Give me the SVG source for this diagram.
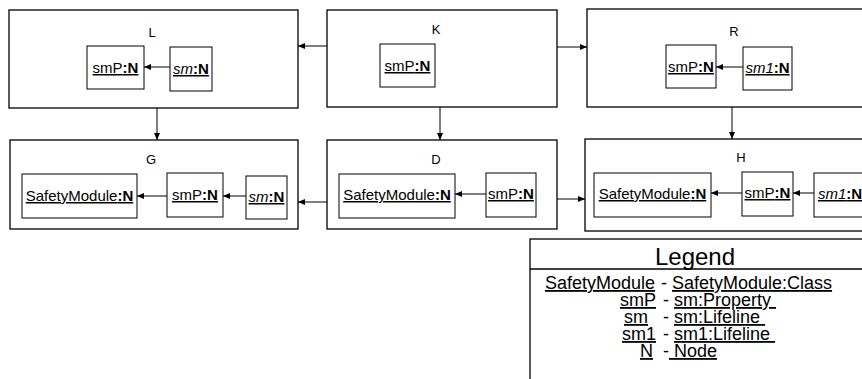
<svg xmlns="http://www.w3.org/2000/svg" width="862" height="379" viewBox="0 0 862 379">
<style>
.outer{fill:#fff;stroke:#000;stroke-width:1.3}
.inner{fill:#fff;stroke:#000;stroke-width:1}
.lbl{font-family:"Liberation Sans",Arial,sans-serif;font-size:13px;text-anchor:middle;fill:#000}
.nt{font-family:"Liberation Sans",Arial,sans-serif;font-size:15px;text-anchor:middle;fill:#000;text-decoration:underline}
.b{font-weight:bold}
.i{font-style:italic}
.conn line{stroke:#000;stroke-width:1;marker-end:url(#ah)}
.lg{font-family:"Liberation Sans",Arial,sans-serif;font-size:18px;fill:#000}
.u{text-decoration:underline}
</style>
<defs>
<marker id="ah" markerWidth="7" markerHeight="6" refX="7" refY="3" orient="auto" markerUnits="userSpaceOnUse">
<path d="M0,0 L7,3 L0,6 z" fill="#000"/>
</marker>
</defs>

<g id="L">
<rect class="outer" x="9" y="10" width="289" height="98"/>
<text class="lbl" x="152" y="37">L</text>
<g id="L-smP"><rect class="inner" x="87" y="46" width="57" height="43"/><text class="nt" x="115.5" y="73">smP<tspan class="b">:N</tspan></text></g>
<g id="L-sm"><rect class="inner" x="170" y="47" width="42" height="44"/><text class="nt" x="191" y="74"><tspan class="i">sm</tspan><tspan class="b">:N</tspan></text></g>
</g>

<g id="K">
<rect class="outer" x="327" y="10" width="230" height="97"/>
<text class="lbl" x="436" y="34">K</text>
<g id="K-smP"><rect class="inner" x="380" y="44" width="55" height="43"/><text class="nt" x="407.5" y="71">smP<tspan class="b">:N</tspan></text></g>
</g>

<g id="R">
<rect class="outer" x="587" y="9" width="290" height="98"/>
<text class="lbl" x="734" y="36">R</text>
<g id="R-smP"><rect class="inner" x="666" y="45" width="50" height="43"/><text class="nt" x="691" y="72">smP<tspan class="b">:N</tspan></text></g>
<g id="R-sm1"><rect class="inner" x="743" y="47" width="49" height="43"/><text class="nt" x="767.5" y="73"><tspan class="i">sm1</tspan><tspan class="b">:N</tspan></text></g>
</g>

<g id="G">
<rect class="outer" x="10" y="140" width="288" height="89"/>
<text class="lbl" x="151" y="164">G</text>
<g id="G-SafetyModule"><rect class="inner" x="22" y="174" width="115" height="44"/><text class="nt" x="79.5" y="201">SafetyModule<tspan class="b">:N</tspan></text></g>
<g id="G-smP"><rect class="inner" x="167" y="173" width="56" height="44"/><text class="nt" x="195" y="200">smP<tspan class="b">:N</tspan></text></g>
<g id="G-sm"><rect class="inner" x="246" y="176" width="41" height="43"/><text class="nt" x="266.5" y="202"><tspan class="i">sm</tspan><tspan class="b">:N</tspan></text></g>
</g>

<g id="D">
<rect class="outer" x="327" y="140" width="230" height="89"/>
<text class="lbl" x="436" y="164">D</text>
<g id="D-SafetyModule"><rect class="inner" x="339" y="174" width="116" height="44"/><text class="nt" x="397" y="200">SafetyModule<tspan class="b">:N</tspan></text></g>
<g id="D-smP"><rect class="inner" x="486" y="173" width="50" height="44"/><text class="nt" x="511" y="199">smP<tspan class="b">:N</tspan></text></g>
</g>

<g id="H">
<rect class="outer" x="585" y="139" width="290" height="92"/>
<text class="lbl" x="741" y="162">H</text>
<g id="H-SafetyModule"><rect class="inner" x="594" y="173" width="117" height="44"/><text class="nt" x="652.5" y="199">SafetyModule<tspan class="b">:N</tspan></text></g>
<g id="H-smP"><rect class="inner" x="742" y="172" width="51" height="44"/><text class="nt" x="767.5" y="198">smP<tspan class="b">:N</tspan></text></g>
<g id="H-sm1"><rect class="inner" x="814" y="173" width="52" height="44"/><text class="nt" x="840" y="199"><tspan class="i">sm1</tspan><tspan class="b">:N</tspan></text></g>
</g>

<g id="connectors" class="conn">
<line x1="170" y1="67" x2="144" y2="67"/>
<line x1="743" y1="67" x2="716" y2="67"/>
<line x1="167" y1="196" x2="137" y2="196"/>
<line x1="246" y1="196" x2="223" y2="196"/>
<line x1="486" y1="194" x2="455" y2="194"/>
<line x1="742" y1="193" x2="711" y2="193"/>
<line x1="814" y1="193" x2="793" y2="193"/>
<line x1="327" y1="46" x2="298" y2="46"/>
<line x1="557" y1="47" x2="587" y2="47"/>
<line x1="157" y1="108" x2="157" y2="140"/>
<line x1="440" y1="107" x2="440" y2="140"/>
<line x1="732" y1="107" x2="732" y2="139"/>
<line x1="327" y1="202" x2="298" y2="202"/>
<line x1="557" y1="199" x2="585" y2="199"/>
</g>

<g id="legend">
<rect class="outer" x="530" y="239" width="340" height="145"/>
<line x1="530" y1="269" x2="870" y2="269" stroke="#000" stroke-width="1.3"/>
<text x="695" y="265" font-family="Liberation Sans, Arial, sans-serif" font-size="24" text-anchor="middle">Legend</text>
<text class="lg u" x="655" y="289" text-anchor="end">SafetyModule</text>
<text class="lg" x="661" y="289">- <tspan class="u">SafetyModule:Class</tspan></text>
<text class="lg u" x="656" y="306" text-anchor="end">smP</text>
<text class="lg" x="663" y="306" xml:space="preserve">- <tspan class="u">sm:Property </tspan></text>
<text class="lg u" x="648" y="323" text-anchor="end">sm</text>
<text class="lg" x="663" y="323" xml:space="preserve">- <tspan class="u">sm:Lifeline </tspan></text>
<text class="lg u" x="656" y="340" text-anchor="end">sm1</text>
<text class="lg" x="663" y="340" xml:space="preserve">- <tspan class="u">sm1:Lifeline </tspan></text>
<text class="lg u" x="653" y="357" text-anchor="end">N</text>
<text class="lg" x="663" y="357" xml:space="preserve">-<tspan class="u"> Node</tspan></text>
</g>
</svg>
